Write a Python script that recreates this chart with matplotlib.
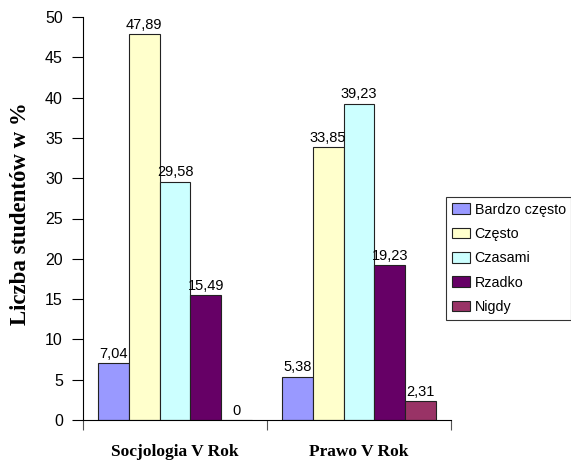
import matplotlib
matplotlib.use("Agg")
import matplotlib.pyplot as plt
import numpy as np

groups = ["Socjologia V Rok", "Prawo V Rok"]
series = ["Bardzo często", "Często", "Czasami", "Rzadko", "Nigdy"]
values = {
    "Bardzo często": [7.04, 5.38],
    "Często": [47.89, 33.85],
    "Czasami": [29.58, 39.23],
    "Rzadko": [15.49, 19.23],
    "Nigdy": [0, 2.31],
}
labels_txt = {
    "Bardzo często": ["7,04", "5,38"],
    "Często": ["47,89", "33,85"],
    "Czasami": ["29,58", "39,23"],
    "Rzadko": ["15,49", "19,23"],
    "Nigdy": ["0", "2,31"],
}
colors = ["#9999FF", "#FFFFCC", "#CCFFFF", "#660066", "#993366"]
yticks = [0, 5, 10, 15, 20, 25, 30, 35, 40, 45, 50]

fig = plt.figure(figsize=(5.71, 4.62), dpi=100)
ax = fig.add_axes([83/571, 1-420/462, (451-83)/571, (420-17)/462])

bw = 0.168
x = np.arange(len(groups))
for i, s in enumerate(series):
    pos = x + (i - 2) * bw
    bars = ax.bar(pos, values[s], width=bw, color=colors[i], edgecolor="#222222",
                  linewidth=0.8)
    for j, b in enumerate(bars):
        ax.text(b.get_x() + b.get_width()/2, b.get_height() + 0.3, labels_txt[s][j],
                ha="center", va="bottom", fontsize=10.5, family="Liberation Sans")

ax.set_xlim(-0.5, 1.5)
ax.set_ylim(0, 50)
ax.set_yticks(yticks)
ax.set_yticklabels([str(t) for t in yticks], family="Liberation Sans", fontsize=11.5)
ax.tick_params(axis="y", direction="out", length=8, width=0.8, pad=6.5)
ax.set_xticks(x)
ax.set_xticklabels(groups, family="Liberation Serif", fontweight="bold", fontsize=12.5)
ax.tick_params(axis="x", which="major", length=0, pad=17)
ax.set_xticks([-0.5, 0.5, 1.5], minor=True)
ax.tick_params(axis="x", which="minor", direction="out", length=7.5, width=0.8, color="#555555")
for sp in ["top", "right"]:
    ax.spines[sp].set_visible(False)
ax.spines["left"].set_linewidth(0.8)
ax.spines["bottom"].set_linewidth(0.8)
fig.text(21/571, 1-214/462, "Liczba studentów w %", rotation=90, ha="center", va="center",
         family="Liberation Serif", fontweight="bold", fontsize=16.5)

handles = [plt.Rectangle((0, 0), 1, 1, facecolor=c, edgecolor="#222222", linewidth=0.8) for c in colors]
leg = fig.legend(handles, series, loc="upper left", bbox_to_anchor=(446/571, 1-197/462),
                 prop={"family": "Liberation Sans", "size": 10.3}, frameon=True, fancybox=False,
                 edgecolor="black", handlelength=1.3, handleheight=0.75, handletextpad=0.3,
                 labelspacing=0.72, borderpad=0.4, borderaxespad=0)
leg.get_frame().set_linewidth(0.8)

fig.savefig("out.png", dpi=100)
